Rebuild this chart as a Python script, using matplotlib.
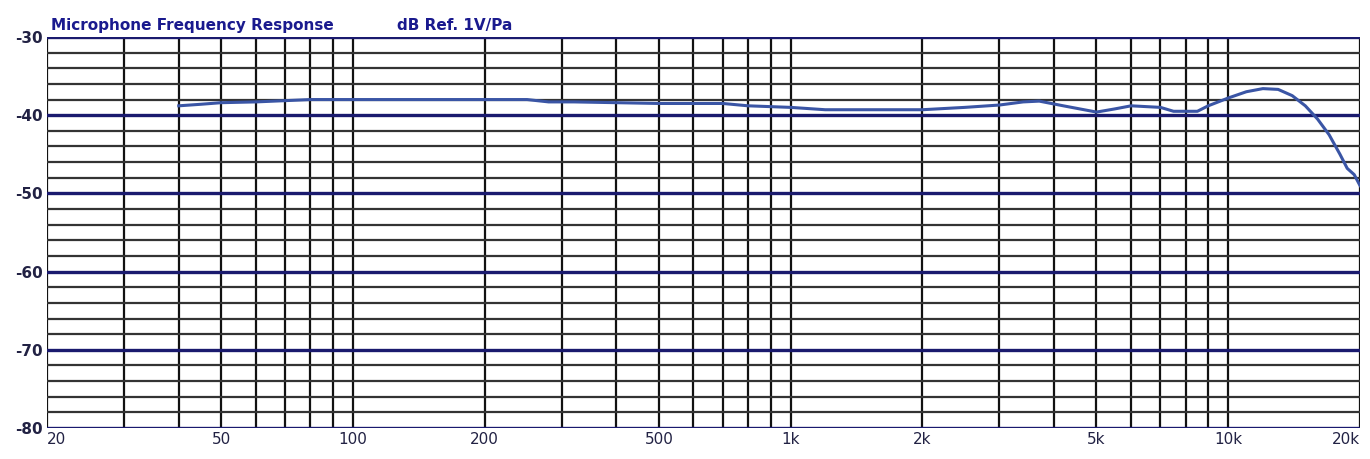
import matplotlib
matplotlib.use("Agg")
import matplotlib.pyplot as plt
import numpy as np

freq = [40, 45, 50, 60, 80, 100, 150, 250, 280, 320, 500, 700, 800, 1000, 1200, 1500, 2000, 2500, 3000, 3400, 3700, 4200, 5000, 5500, 6000, 7000, 7500, 8500, 9000, 10000, 11000, 12000, 13000, 14000, 15000, 16000, 17000, 18000, 18700, 19400, 20000]
db = [-38.8, -38.6, -38.4, -38.3, -38.0, -38.0, -38.0, -38.0, -38.3, -38.3, -38.5, -38.5, -38.8, -39.0, -39.3, -39.3, -39.3, -39.0, -38.7, -38.3, -38.2, -38.8, -39.6, -39.2, -38.8, -39.0, -39.5, -39.5, -38.8, -37.8, -37.0, -36.6, -36.7, -37.5, -38.8, -40.5, -42.5, -45.0, -46.8, -47.6, -49.0]
xticks = [20, 50, 100, 200, 500, 1000, 2000, 5000, 10000, 20000]
xlabels = ["20", "50", "100", "200", "500", "1k", "2k", "5k", "10k", "20k"]
yticks = [-30, -40, -50, -60, -70, -80]

fig = plt.figure(figsize=(13.7, 4.59), dpi=100)
ax = fig.add_axes([0.0343, 0.0675, 0.9584, 0.8519])
ax.set_xscale("log")
ax.set_xlim(20, 20000)
ax.set_ylim(-80, -30)

grid_x = [m * 10**e for e in range(1, 5) for m in range(1, 10) if 20 <= m * 10**e <= 20000]
for gx in grid_x:
    ax.axvline(gx, color="#111111", lw=1.6, zorder=1)
for gy in range(-80, -29, 2):
    major = gy % 10 == 0
    ax.axhline(gy, color="#1a1a6e" if major else "#333333", lw=2.4 if major else 1.6, zorder=1)

ax.plot(freq, db, color="#3a55a5", lw=2.2, zorder=3)

ax.set_xticks(xticks)
ax.set_xticklabels(xlabels)
ax.set_xticks([], minor=True)
ax.set_yticks(yticks)
ax.set_yticklabels([str(v) for v in yticks])
ax.tick_params(length=0, labelsize=11, pad=3, colors="#222244")
xl = ax.get_xticklabels()
xl[0].set_horizontalalignment("left")
xl[-1].set_horizontalalignment("right")
for lbl in ax.get_yticklabels():
    lbl.set_fontweight("bold")
for s in ax.spines.values():
    s.set_visible(False)

fig.text(0.037, 0.935, "Microphone Frequency Response", color="#1a1a8e", fontsize=11, fontweight="bold")
fig.text(0.29, 0.935, "dB Ref. 1V/Pa", color="#1a1a8e", fontsize=11, fontweight="bold")

fig.savefig("out.png", dpi=100)
